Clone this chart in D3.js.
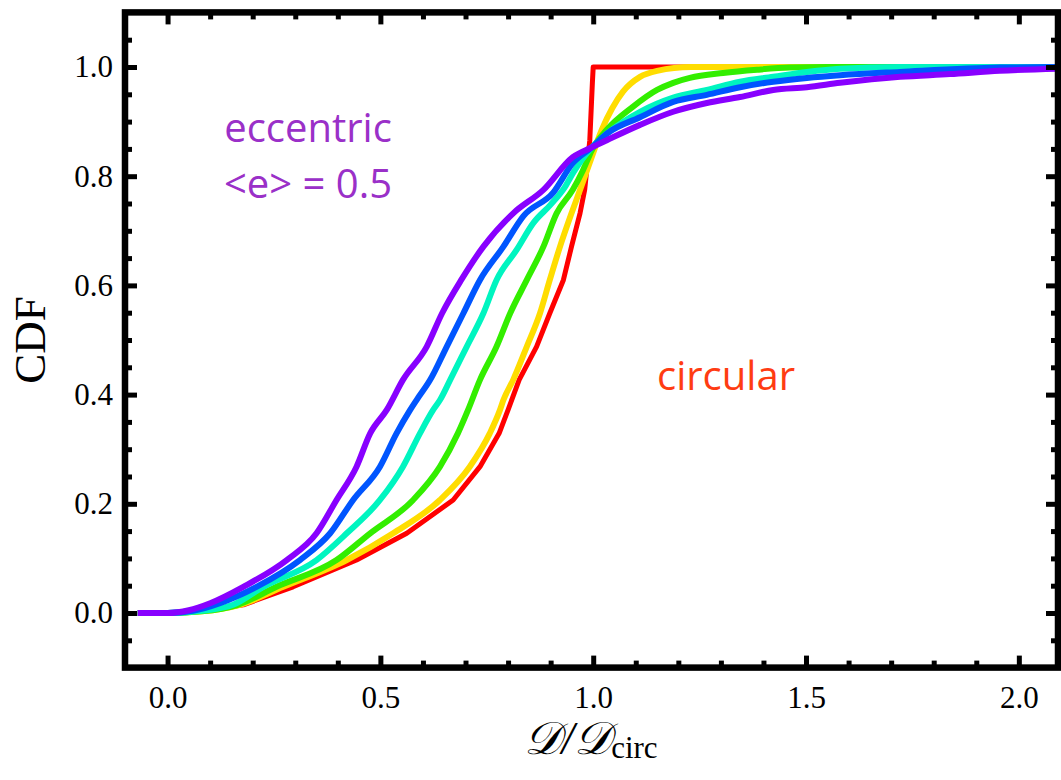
<!DOCTYPE html>
<html>
<head>
<meta charset="utf-8">
<script src="https://cdn.jsdelivr.net/npm/d3@7"></script>
<style>
  html, body { margin: 0; padding: 0; background: #fff; }
  svg { display: block; }
</style>
</head>
<body>
<svg id="chart" width="1061" height="780"></svg>
<script>
// ---------------- data ----------------
const seriesNames = ["circular", "e1", "e2", "e3", "e4", "eccentric <e> = 0.5"];
const seriesColors = ["#FF0000", "#FFDD00", "#33EE00", "#00F5C0", "#0055FF", "#8800FF"];

const redX    = [-0.07, 0.0, 0.08, 0.178, 0.295, 0.444, 0.562, 0.671, 0.734, 0.779, 0.800, 0.826, 0.867, 0.898, 0.930, 0.949, 0.969, 0.980, 0.992, 0.998, 1.0, 2.1];
const redY    = [0, 0, 0.003, 0.015, 0.048, 0.097, 0.146, 0.207, 0.268, 0.329, 0.372, 0.427, 0.488, 0.549, 0.610, 0.671, 0.732, 0.775, 0.866, 0.970, 1.0, 1.0];

const yellowX = [-0.07, 0.0, 0.08, 0.170, 0.272, 0.421, 0.530, 0.640, 0.710, 0.757, 0.781, 0.789, 0.812, 0.844, 0.875, 0.898, 0.922, 0.949, 0.969, 0.992, 1.020, 1.045, 1.070, 1.110, 1.150, 1.230, 2.1];
const yellowY = [0, 0, 0.003, 0.015, 0.048, 0.097, 0.146, 0.207, 0.268, 0.329, 0.372, 0.390, 0.427, 0.488, 0.549, 0.610, 0.671, 0.732, 0.775, 0.825, 0.885, 0.925, 0.955, 0.982, 0.993, 1.0, 1.0];

const greenX  = [-0.07, 0.0, 0.08, 0.165, 0.256, 0.397, 0.476, 0.577, 0.640, 0.682, 0.706, 0.734, 0.773, 0.805, 0.844, 0.883, 0.914, 0.952, 0.976, 0.997, 1.032, 1.093, 1.150, 1.188, 1.227, 1.305, 1.385, 1.462, 1.550, 2.1];
const greenY  = [0, 0, 0.003, 0.015, 0.048, 0.097, 0.146, 0.207, 0.268, 0.329, 0.372, 0.427, 0.488, 0.549, 0.610, 0.671, 0.732, 0.775, 0.811, 0.848, 0.885, 0.927, 0.958, 0.971, 0.980, 0.989, 0.995, 0.999, 1.0, 1.0];

const cyanX   = [-0.07, 0.0, 0.08, 0.154, 0.225, 0.350, 0.421, 0.499, 0.553, 0.593, 0.624, 0.640, 0.664, 0.703, 0.742, 0.773, 0.820, 0.860, 0.900, 0.935, 0.952, 0.997, 1.032, 1.110, 1.188, 1.267, 1.345, 1.423, 1.502, 1.580, 1.720, 2.1];
const cyanY   = [0, 0, 0.004, 0.015, 0.048, 0.097, 0.146, 0.207, 0.268, 0.329, 0.372, 0.390, 0.427, 0.488, 0.549, 0.610, 0.665, 0.715, 0.748, 0.782, 0.805, 0.853, 0.878, 0.918, 0.944, 0.958, 0.973, 0.982, 0.991, 0.997, 1.0, 1.0];

const blueX   = [-0.07, 0.0, 0.06, 0.123, 0.209, 0.311, 0.382, 0.436, 0.499, 0.538, 0.570, 0.585, 0.617, 0.656, 0.695, 0.734, 0.789, 0.836, 0.906, 0.952, 0.997, 1.032, 1.110, 1.188, 1.267, 1.345, 1.423, 1.502, 1.580, 1.721, 1.955, 2.1];
const blueY   = [0, 0, 0.004, 0.018, 0.048, 0.097, 0.146, 0.207, 0.268, 0.329, 0.372, 0.390, 0.427, 0.488, 0.549, 0.610, 0.671, 0.727, 0.770, 0.824, 0.853, 0.878, 0.908, 0.936, 0.949, 0.963, 0.973, 0.980, 0.985, 0.991, 0.999, 1.0];

const purpleX = [-0.07, 0.0, 0.05, 0.100, 0.178, 0.280, 0.350, 0.397, 0.444, 0.476, 0.515, 0.553, 0.609, 0.645, 0.690, 0.742, 0.812, 0.883, 0.952, 0.997, 1.032, 1.110, 1.188, 1.267, 1.345, 1.423, 1.502, 1.580, 1.721, 1.838, 1.955, 2.1];
const purpleY = [0, 0, 0.005, 0.018, 0.048, 0.097, 0.146, 0.207, 0.268, 0.329, 0.372, 0.427, 0.488, 0.549, 0.610, 0.671, 0.732, 0.775, 0.835, 0.853, 0.866, 0.894, 0.918, 0.934, 0.945, 0.958, 0.963, 0.971, 0.982, 0.987, 0.993, 0.997];

const seriesX = [redX, yellowX, greenX, cyanX, blueX, purpleX];
const seriesY = [redY, yellowY, greenY, cyanY, blueY, purpleY];

const xMajorTicks = [0, 0.5, 1.0, 1.5, 2.0];
const xTickLabels = ["0.0", "0.5", "1.0", "1.5", "2.0"];
const xMinorTicks = [0.1, 0.2, 0.3, 0.4, 0.6, 0.7, 0.8, 0.9, 1.1, 1.2, 1.3, 1.4, 1.6, 1.7, 1.8, 1.9];
const yMajorTicks = [0, 0.2, 0.4, 0.6, 0.8, 1.0];
const yTickLabels = ["0.0", "0.2", "0.4", "0.6", "0.8", "1.0"];
const yMinorTicks = [-0.05, 0.05, 0.1, 0.15, 0.25, 0.3, 0.35, 0.45, 0.5, 0.55, 0.65, 0.7, 0.75, 0.85, 0.9, 0.95, 1.05];

const xDomain = [-0.1, 2.092];
const yDomain = [-0.1, 1.1];

// ---------------- drawing ----------------
const svg = d3.select("#chart");
const L = 125, R = 1058, T = 12.4, B = 667.6;
const x = d3.scaleLinear().domain(xDomain).range([L, R]);
const y = d3.scaleLinear().domain(yDomain).range([B, T]);

const serif = "'Liberation Serif', 'Times New Roman', 'DejaVu Serif', serif";
const sans = "'Open Sans', 'Lato', sans-serif";

svg.append("defs").append("clipPath").attr("id", "plotclip")
  .append("rect").attr("x", L).attr("y", T).attr("width", R - L).attr("height", B - T);

// curves
const gCurves = svg.append("g").attr("clip-path", "url(#plotclip)");
seriesX.forEach((xs, i) => {
  const pts = xs.map((v, j) => [v, seriesY[i][j]]);
  const line = d3.line().x(d => x(d[0])).y(d => y(d[1]))
    .curve(i === 0 ? d3.curveLinear : d3.curveMonotoneX);
  gCurves.append("path")
    .datum(pts)
    .attr("d", line)
    .attr("fill", "none")
    .attr("stroke", seriesColors[i])
    .attr("stroke-width", i === 0 ? 5 : 6)
    .attr("stroke-linejoin", "round")
    .attr("stroke-linecap", "butt");
});

// axes (ticks inward)
function styleAxis(g) {
  g.select(".domain").remove();
  g.selectAll(".tick line").attr("stroke", "#000").attr("stroke-width", 5);
  g.selectAll("text").attr("fill", "#000").style("font-family", serif).style("font-size", "31px");
}
const MAJ = 12, MIN = 7;
svg.append("g").attr("transform", `translate(0,${B})`)
  .call(d3.axisBottom(x).tickValues(xMajorTicks).tickSize(-MAJ).tickPadding(18).tickFormat((d, i) => xTickLabels[i]))
  .call(styleAxis);
svg.append("g").attr("transform", `translate(0,${B})`)
  .call(d3.axisBottom(x).tickValues(xMinorTicks).tickSize(-MIN).tickFormat(""))
  .call(styleAxis);
svg.append("g").attr("transform", `translate(0,${T})`)
  .call(d3.axisTop(x).tickValues(xMajorTicks).tickSize(-MAJ).tickFormat(""))
  .call(styleAxis);
svg.append("g").attr("transform", `translate(0,${T})`)
  .call(d3.axisTop(x).tickValues(xMinorTicks).tickSize(-MIN).tickFormat(""))
  .call(styleAxis);
svg.append("g").attr("transform", `translate(${L},0)`)
  .call(d3.axisLeft(y).tickValues(yMajorTicks).tickSize(-MAJ).tickPadding(12).tickFormat((d, i) => yTickLabels[i]))
  .call(styleAxis);
svg.append("g").attr("transform", `translate(${L},0)`)
  .call(d3.axisLeft(y).tickValues(yMinorTicks).tickSize(-MIN).tickFormat(""))
  .call(styleAxis);
svg.append("g").attr("transform", `translate(${R},0)`)
  .call(d3.axisRight(y).tickValues(yMajorTicks).tickSize(-MAJ).tickFormat(""))
  .call(styleAxis);
svg.append("g").attr("transform", `translate(${R},0)`)
  .call(d3.axisRight(y).tickValues(yMinorTicks).tickSize(-MIN).tickFormat(""))
  .call(styleAxis);

// frame
svg.append("rect")
  .attr("x", L).attr("y", T).attr("width", R - L).attr("height", B - T)
  .attr("fill", "none").attr("stroke", "#000").attr("stroke-width", 6.5);

// axis titles
svg.append("text")
  .attr("transform", "translate(45,340) rotate(-90)")
  .attr("text-anchor", "middle")
  .style("font-family", serif).style("font-size", "45px").attr("fill", "#000")
  .text("CDF");

const xt = svg.append("text")
  .attr("x", 591).attr("y", 754)
  .attr("text-anchor", "middle")
  .style("font-family", serif).attr("fill", "#000");
xt.append("tspan").style("font-size", "46px").style("font-style", "italic").text("𝒟/𝒟");
xt.append("tspan").style("font-size", "31px").attr("dy", 4).text("circ");

// annotations
svg.append("text").attr("x", 308).attr("y", 142).attr("text-anchor", "middle")
  .style("font-family", sans).style("font-size", "40px").attr("fill", "#9A30C8")
  .text("eccentric");
svg.append("text").attr("x", 308).attr("y", 198).attr("text-anchor", "middle")
  .style("font-family", sans).style("font-size", "40px").attr("fill", "#9A30C8")
  .text("<e> = 0.5");
svg.append("text").attr("x", 726).attr("y", 390).attr("text-anchor", "middle")
  .style("font-family", sans).style("font-size", "40px").attr("fill", "#FF3C12")
  .text("circular");
</script>
</body>
</html>
